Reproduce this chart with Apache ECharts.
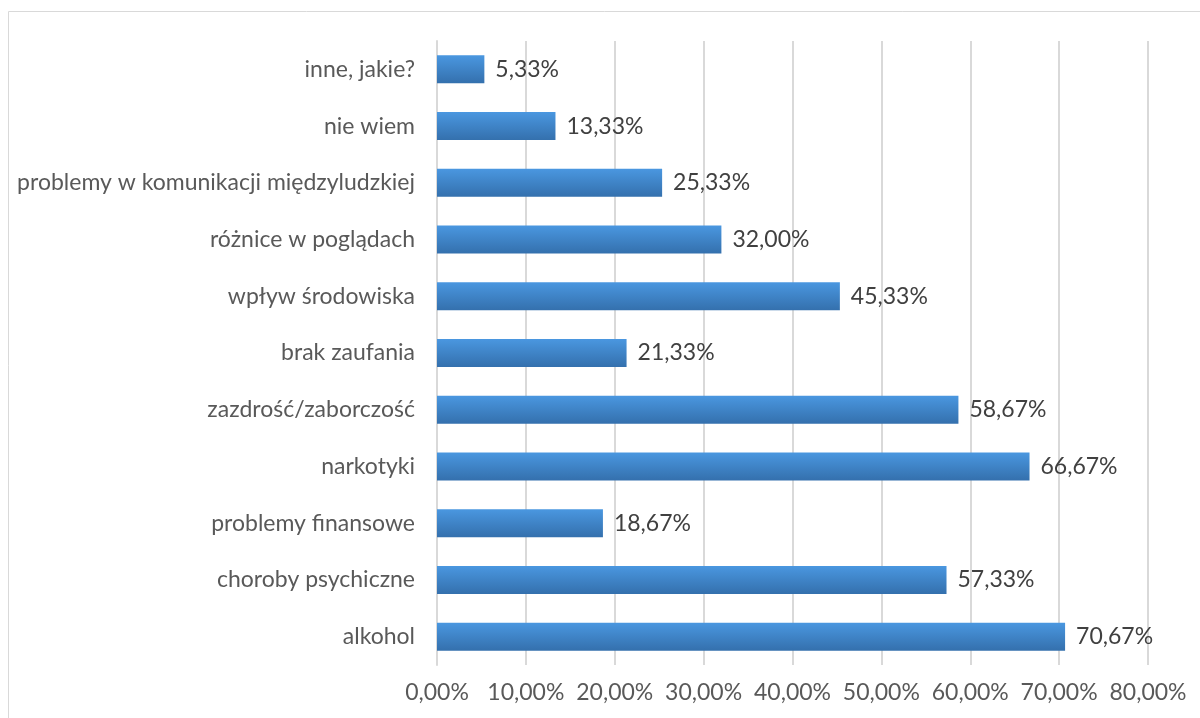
<!DOCTYPE html>
<html><head><meta charset="utf-8">
<script src="https://cdn.jsdelivr.net/npm/echarts@6/dist/echarts.min.js"></script>
<style>html,body{margin:0;padding:0;background:#fff;}#c{width:1200px;height:718px;}</style>
</head><body><div id="c"></div>
<script>
const categories = ["alkohol","choroby psychiczne","problemy finansowe","narkotyki","zazdrość/zaborczość","brak zaufania","wpływ środowiska","różnice w poglądach","problemy w komunikacji międzyludzkiej","nie wiem","inne, jakie?"];
const values = [70.67,57.33,18.67,66.67,58.67,21.33,45.33,32.00,25.33,13.33,5.33];
const axisMin = 0, axisMax = 80, axisStep = 10;
const fmt = v => v.toFixed(2).replace('.', ',') + '%';
const chart = echarts.init(document.getElementById('c'));
chart.setOption({
  animation:false,
  textStyle:{fontFamily:'Lato'},
  graphic:[{type:'rect',shape:{x:8.5,y:11.5,width:1200,height:720},style:{fill:'none',stroke:'#d9d9d9',lineWidth:1}}],
  grid:{left:437,right:52,top:41,bottom:53},
  xAxis:{type:'value',min:axisMin,max:axisMax,interval:axisStep,
    axisLine:{show:false},axisTick:{show:false},
    splitLine:{lineStyle:{color:'#d9d9d9',width:2}},
    axisLabel:{formatter:v=>fmt(v),color:'#595959',fontSize:23,margin:16}},
  yAxis:{type:'category',data:categories,
    axisLine:{show:true,lineStyle:{color:'#d9d9d9',width:2}},axisTick:{show:false},
    axisLabel:{color:'#595959',fontSize:23,margin:22}},
  series:[{type:'bar',data:values,barWidth:28,
    itemStyle:{color:new echarts.graphic.LinearGradient(0,0,0,1,[{offset:0,color:'#4a97e0'},{offset:1,color:'#3470ad'}])},
    label:{show:true,position:'right',distance:11,formatter:p=>fmt(p.value),color:'#404040',fontSize:23}}]
});
</script></body></html>
